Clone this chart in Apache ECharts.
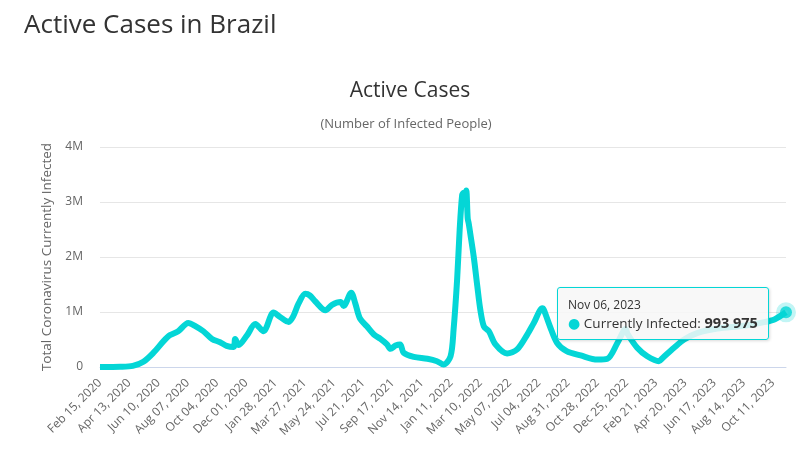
<!DOCTYPE html>
<html>
<head>
<meta charset="utf-8">
<title>Active Cases in Brazil</title>
<script src="https://cdn.jsdelivr.net/npm/echarts@6/dist/echarts.min.js"></script>
<style>
    html, body { margin: 0; padding: 0; background: #fff; }
    #chart { width: 802px; height: 452px; }
</style>
</head>
<body>
<div id="chart"></div>
<script>
// readings of the curve (date, active cases)
var dates = [
    '2020-02-15', '2020-03-06', '2020-03-26', '2020-04-20', '2020-05-11', '2020-05-31',
    '2020-06-20', '2020-07-03', '2020-07-19', '2020-08-08', '2020-08-22', '2020-09-07',
    '2020-09-24', '2020-10-10', '2020-10-23', '2020-11-06', '2020-11-09', '2020-11-16',
    '2020-12-02', '2020-12-19', '2021-01-04', '2021-01-24', '2021-02-06', '2021-02-23',
    '2021-03-04', '2021-03-15', '2021-03-28', '2021-04-06', '2021-04-17', '2021-05-07',
    '2021-05-20', '2021-06-06', '2021-06-12', '2021-06-27', '2021-07-05', '2021-07-14',
    '2021-07-28', '2021-08-11', '2021-08-24', '2021-09-06', '2021-09-13', '2021-09-23',
    '2021-10-02', '2021-10-09', '2021-10-29', '2021-11-25', '2021-12-14', '2021-12-27',
    '2022-01-10', '2022-01-16', '2022-01-23', '2022-01-28', '2022-02-02', '2022-02-05',
    '2022-02-07', '2022-02-10', '2022-02-13', '2022-02-15', '2022-02-18', '2022-02-25',
    '2022-03-04', '2022-03-10', '2022-03-17', '2022-03-27', '2022-04-09', '2022-05-02',
    '2022-05-22', '2022-06-11', '2022-06-24', '2022-07-11', '2022-07-14', '2022-07-26',
    '2022-08-09', '2022-08-28', '2022-09-25', '2022-10-28', '2022-11-17', '2022-12-07',
    '2022-12-23', '2022-12-27', '2023-01-15', '2023-02-04', '2023-02-27', '2023-03-06',
    '2023-03-29', '2023-04-18', '2023-05-15', '2023-06-23', '2023-08-15', '2023-09-24',
    '2023-10-15', '2023-11-06'
];
var activeCases = [
    0, 1000, 3000, 20000, 95000, 260000,
    470000, 580000, 650000, 800000, 745000, 650000,
    510000, 450000, 385000, 365000, 510000, 400000,
    570000, 780000, 650000, 990000, 910000, 820000,
    920000, 1160000, 1330000, 1300000, 1190000, 1030000,
    1130000, 1180000, 1110000, 1350000, 1160000, 890000,
    740000, 590000, 510000, 410000, 330000, 390000,
    410000, 260000, 185000, 150000, 105000, 45000,
    195000, 680000, 1590000, 2490000, 3130000, 3170000,
    3100000, 3210000, 2700000, 2610000, 2430000, 2000000,
    1470000, 1040000, 740000, 650000, 410000, 245000,
    320000, 590000, 800000, 1070000, 1040000, 740000,
    440000, 290000, 210000, 135000, 150000, 440000,
    690000, 600000, 350000, 195000, 105000, 160000,
    350000, 500000, 620000, 700000, 750000, 815000,
    870000, 993975
];
var yTicks = [0, 1000000, 2000000, 3000000, 4000000];
var months = ['Jan', 'Feb', 'Mar', 'Apr', 'May', 'Jun', 'Jul', 'Aug', 'Sep', 'Oct', 'Nov', 'Dec'];

var DAY = 86400000;
var start = Date.UTC(2020, 1, 15);

function toDay(s) {
    var p = s.split('-');
    return Math.round((Date.UTC(+p[0], +p[1] - 1, +p[2]) - start) / DAY);
}
function dayLabel(v) {
    var d = new Date(start + v * DAY);
    var dd = d.getUTCDate();
    return months[d.getUTCMonth()] + ' ' + (dd < 10 ? '0' + dd : dd) + ', ' + d.getUTCFullYear();
}
function spaced(n) {
    return String(n).replace(/\B(?=(\d{3})+(?!\d))/g, ' ');
}

var points = dates.map(function (d, i) { return [toDay(d), activeCases[i]]; });
var last = points[points.length - 1];
var lineColor = '#04d6d6';
var font = '"Open Sans", "DejaVu Sans", sans-serif';

var chart = echarts.init(document.getElementById('chart'));
chart.setOption({
    animation: false,
    textStyle: { fontFamily: font },
    title: [{
        text: 'Active Cases in Brazil',
        left: 19, top: 8,
        textStyle: { fontSize: 26, fontWeight: 'normal', color: '#333', fontFamily: font }
    }, {
        text: 'Active Cases',
        left: 405, top: 76, textAlign: 'center',
        textStyle: { fontSize: 21, fontWeight: 'normal', color: '#333', fontFamily: font }
    }, {
        text: '(Number of Infected People)',
        left: 401, top: 113, textAlign: 'center',
        textStyle: { fontSize: 13, fontWeight: 'normal', color: '#666', fontFamily: font }
    }],
    grid: { left: 100, right: 16, top: 147, bottom: 85, containLabel: false },
    tooltip: {
        trigger: 'item',
        alwaysShowContent: true,
        triggerOn: 'none',
        transitionDuration: 0,
        backgroundColor: 'rgba(247,247,247,0.85)',
        borderColor: lineColor,
        borderWidth: 1,
        padding: [7, 10],
        extraCssText: 'border-radius:3px;box-shadow:1px 1px 3px rgba(0,0,0,0.15);',
        position: function () { return [557, 287]; },
        formatter: function (p) {
            return '<div style="font-family:' + font.replace(/"/g, "'") + ';color:#333;line-height:18px">' +
                '<span style="font-size:12px">' + dayLabel(p.value[0]) + '</span><br>' +
                '<span style="color:' + lineColor + ';font-size:14px">\u25CF</span> ' +
                '<span style="font-size:13.5px">Currently Infected: </span>' +
                '<b style="font-size:14.5px">' + spaced(p.value[1]) + '</b></div>';
        }
    },
    xAxis: {
        type: 'value',
        min: 0,
        max: toDay(dates[dates.length - 1]),
        interval: 58,
        axisLine: { lineStyle: { color: '#ccd6eb' } },
        axisTick: { show: false },
        splitLine: { show: false },
        axisLabel: {
            rotate: 45,
            margin: 14,
            showMaxLabel: false,
            color: '#666',
            fontSize: 12,
            formatter: dayLabel
        }
    },
    yAxis: {
        type: 'value',
        min: yTicks[0],
        max: yTicks[yTicks.length - 1],
        interval: yTicks[1] - yTicks[0],
        name: 'Total Coronavirus Currently Infected',
        nameLocation: 'middle',
        nameGap: 42,
        nameTextStyle: { color: '#666', fontSize: 13.5 },
        axisLine: { show: false },
        axisTick: { show: false },
        splitLine: { lineStyle: { color: '#e6e6e6' } },
        axisLabel: {
            color: '#666',
            fontSize: 12,
            margin: 17,
            formatter: function (v) { return v === 0 ? '0' : v / 1000000 + 'M'; }
        }
    },
    series: [{
        name: 'Currently Infected',
        type: 'line',
        data: points,
        showSymbol: false,
        smooth: 0.3,
        lineStyle: { color: lineColor, width: 6 },
        itemStyle: { color: lineColor },
        silent: true
    }, {
        name: 'Currently Infected',
        type: 'scatter',
        data: [last],
        symbolSize: 12,
        itemStyle: { color: lineColor, borderColor: 'rgba(4,214,214,0.3)', borderWidth: 8 },
        z: 5
    }]
});
chart.dispatchAction({ type: 'showTip', seriesIndex: 1, dataIndex: 0 });
</script>
</body>
</html>
